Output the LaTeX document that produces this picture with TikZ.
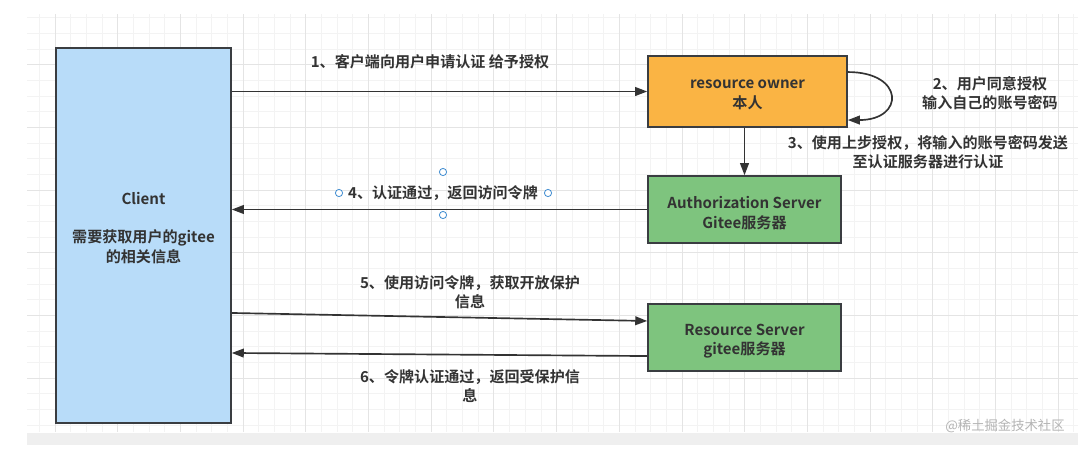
\documentclass[tikz,border=0pt]{standalone}
\usepackage{fontspec}
\setmainfont{Noto Sans CJK SC}[BoldFont={Noto Sans CJK SC Bold}]
\usetikzlibrary{arrows.meta}
\definecolor{boxline}{HTML}{3A3D41}
\definecolor{clientfill}{HTML}{B8DCF9}
\definecolor{ownerfill}{HTML}{FAB444}
\definecolor{serverfill}{HTML}{7EC47E}
\definecolor{txtc}{HTML}{333333}
\definecolor{gridminor}{HTML}{F3F3F3}
\definecolor{gridmajor}{HTML}{E4E4E4}
\definecolor{bandgrey}{HTML}{EFEFEF}
\definecolor{handle}{HTML}{3D8BD0}
\definecolor{markc}{HTML}{B4B4B4}
\begin{document}
\begin{tikzpicture}[x=0.75pt,y=-0.75pt,
  box/.style={draw=boxline,line width=1.1pt,inner sep=0pt},
  lbl/.style={inner sep=0pt,align=center,text=txtc,
    font=\bfseries\fontsize{11.3}{14.5}\selectfont},
  boxtxt/.style={label={[lbl,yshift=-2.6pt]center:{#1}}},
  arr/.style={draw=txtc,line width=1.25pt,-{Triangle[length=9pt,width=6.5pt]}},
  handlec/.style={draw=handle,line width=0.6pt,fill=white}]
\useasboundingbox[fill=white] (0,0) rectangle (1088,455);
\fill[bandgrey] (27,433) rectangle (1078,445);
\begin{scope}
\clip (27,14) rectangle (1078,432);
\foreach \i in {0,...,66} \draw[gridminor,line width=0.6pt] ({39.3+15.675*\i},14) -- ++(0,418);
\foreach \i in {1,...,27} \draw[gridminor,line width=0.6pt] (27,{1.9+15.675*\i}) -- ++(1051,0);
\foreach \i in {0,...,16} \draw[gridmajor,line width=0.7pt] ({55+62.7*\i},14) -- ++(0,418);
\foreach \i in {1,...,6} \draw[gridmajor,line width=0.7pt] (27,{1.9+62.7*\i}) -- ++(1051,0);
\end{scope}

\node[box,fill=clientfill,minimum width=131.3pt,minimum height=281.3pt] (client) at (143.5,235.5) {};
\node[lbl] (clienttxt) at (143.5,228) {Client\\[14pt]需要获取用户的gitee\\的相关信息};
\node[box,fill=ownerfill,minimum width=149.3pt,minimum height=53.3pt,
  boxtxt={resource owner\\本人}] (owner) at (747.5,91.5) {};
\node[box,fill=serverfill,minimum width=144.8pt,minimum height=50.3pt,
  boxtxt={Authorization Server\\Gitee服务器}] (auth) at (744.5,209.5) {};
\node[box,fill=serverfill,minimum width=144.8pt,minimum height=50.3pt,
  boxtxt={Resource Server\\gitee服务器}] (res) at (744.5,337.5) {};

\draw[arr] (client.east |- owner.west) -- (owner.west);
\draw[arr] ([yshift=14.6pt]owner.east) .. controls +(57,0) and +(57,0) .. ([yshift=-21.4pt]owner.east);
\draw[arr] (auth.north |- owner.south) -- (auth.north);
\draw[arr] (auth.west) -- (client.east |- auth.west);
\draw[arr] ([yshift=-58.1pt]client.east) -- ([yshift=12.4pt]res.west);
\draw[arr] ([yshift=-13.9pt]res.west) -- ([yshift=-88.1pt]client.east);

\node[lbl] (lbl1) at (430,62) {1、客户端向用户申请认证 给予授权};
\node[lbl] (lbl2) at (990,93) {2、用户同意授权\\输入自己的账号密码};
\node[lbl] (lbl3) at (928,152) {3、使用上步授权，将输入的账号密码发送\\至认证服务器进行认证};
\node[lbl] (lbl4) at (443,193) {4、认证通过，返回访问令牌};
\node[lbl] (lbl5) at (470,292) {5、使用访问令牌，获取开放保护\\信息};
\node[lbl] (lbl6) at (470,386) {6、令牌认证通过，返回受保护信\\息};
\node[inner sep=0pt,text=markc,font=\fontsize{10}{12}\selectfont] (mark) at (1005,426) {@稀土掘金技术社区};

\foreach \p in {(339,193),(443,172),(548,193),(443,215)} \draw[handlec] \p circle[radius=3.6];
\end{tikzpicture}
\end{document}
